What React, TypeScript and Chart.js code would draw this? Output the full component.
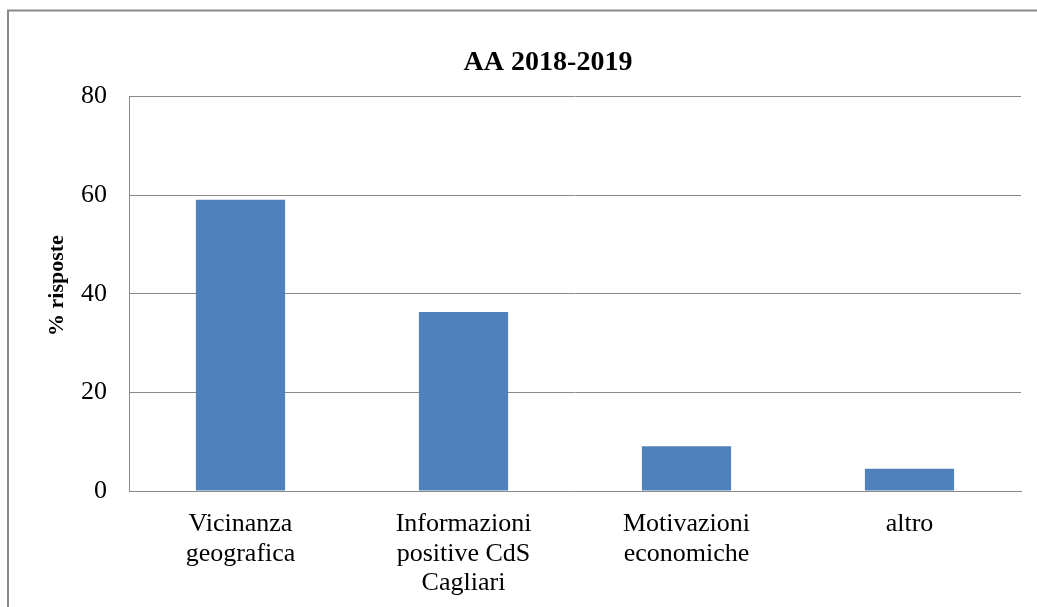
import React, { useEffect, useRef } from "react";
import { Chart, registerables } from "chart.js";

Chart.register(...registerables);

const categories: string[][] = [
  ["Vicinanza", "geografica"],
  ["Informazioni", "positive CdS", "Cagliari"],
  ["Motivazioni", "economiche"],
  ["altro"],
];
const values: number[] = [59.1, 36.3, 9.1, 4.5];
const yTicks: number[] = [0, 20, 40, 60, 80];
const chartTitle = "AA 2018-2019";
const yTitle = "   % risposte";

const FONT = "'Liberation Serif', 'Times New Roman', serif";
const GRAY = "#8a8a8a";

const framePlugin = {
  id: "frame",
  beforeDraw(chart: any) {
    const ctx = chart.ctx;
    ctx.save();
    ctx.fillStyle = "#ffffff";
    ctx.fillRect(0, 0, chart.width, chart.height);
    ctx.strokeStyle = GRAY;
    ctx.lineWidth = 2;
    ctx.strokeRect(8, 10.5, chart.width + 20, chart.height + 20);
    ctx.restore();
  },
};

export default function App() {
  const ref = useRef<HTMLCanvasElement | null>(null);
  useEffect(() => {
    if (!ref.current) return;
    const chart = new Chart(ref.current, {
      type: "bar",
      data: {
        labels: categories,
        datasets: [
          {
            data: values,
            backgroundColor: "#4F81BD",
            borderWidth: 0,
            barPercentage: 0.4,
            categoryPercentage: 1,
          },
        ],
      },
      options: {
        animation: false,
        responsive: false,
        devicePixelRatio: 1,
        layout: { padding: { left: 75, right: 16, top: 0, bottom: 0 } },
        plugins: {
          legend: { display: false },
          tooltip: { enabled: false },
          title: {
            display: true,
            text: chartTitle,
            color: "#000",
            font: { family: FONT, size: 28, weight: "bold", lineHeight: 1.2 },
            padding: { top: 46, bottom: 17 },
          },
        },
        scales: {
          x: {
            grid: { display: false, drawTicks: false },
            border: { display: true, color: GRAY, width: 1 },
            ticks: {
              color: "#000",
              font: { family: FONT, size: 26, lineHeight: 1.12 },
              padding: 19,
              maxRotation: 0,
              autoSkip: false,
            },
            afterFit(scale: any) {
              scale.height = 116;
            },
          },
          y: {
            min: 0,
            max: 80,
            afterBuildTicks(scale: any) {
              scale.ticks = yTicks.map((v) => ({ value: v }));
            },
            grid: { color: GRAY, lineWidth: 1, drawTicks: false },
            border: { display: true, color: GRAY, width: 1 },
            ticks: {
              color: "#000",
              font: { family: FONT, size: 26 },
              padding: 22,
            },
            title: {
              display: true,
              text: yTitle,
              color: "#000",
              font: { family: FONT, size: 22, weight: "bold", lineHeight: 1.2 },
              padding: { top: -31, bottom: 0 },
            },
            afterFit(scale: any) {
              scale.width = 54;
            },
          },
        },
      },
      plugins: [framePlugin],
    });
    return () => chart.destroy();
  }, []);
  return (
    <div style={{ position: "absolute", left: 0, top: 0, width: 1037, height: 607 }}>
      <canvas ref={ref} width={1037} height={607} style={{ width: 1037, height: 607 }} />
    </div>
  );
}
